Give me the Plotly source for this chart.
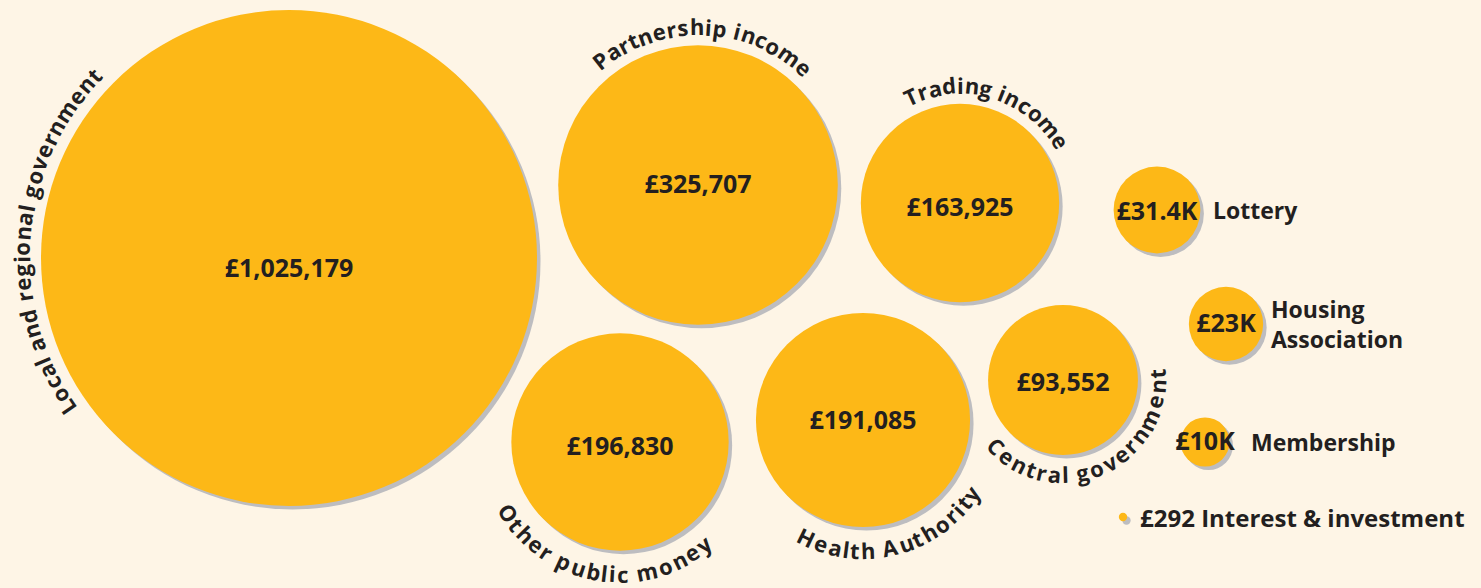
import math

import plotly.graph_objects as go

# --- data -----------------------------------------------------------------
categories = [
    "Local and regional government",
    "Partnership income",
    "Trading income",
    "Other public money",
    "Health Authority",
    "Central government",
    "Lottery",
    "Housing Association",
    "Membership",
    "Interest & investment",
]
values = [1025179, 325707, 163925, 196830, 191085, 93552, 31400, 23000, 10000, 292]

# --- layout (pixel space, x to the right, y downwards) --------------------
centres_x = [289, 698, 960, 620, 863, 1063, 1157, 1226, 1205, 1123]
centres_y = [258, 185, 203, 442, 420, 380, 210, 324, 442, 517]
value_dy = [13, 2, 7, 7, 3, 5, 4, 2, 2, 0]
# label style: arc over the top, arc under the bottom, or plain text at the side
label_style = ["top", "top", "top", "bottom", "bottom", "bottom", "side", "side", "side", "side"]
label_mid_angle = [175.6, 88, 73, 260.3, 284.6, 293.5, None, None, None, None]
label_gap = [20, 19, 19, 23, 23, 19, None, None, None, None]
side_label_x = [None] * 6 + [1211, 1269, 1249, 1138]

BG = "#FEF5E6"
GOLD = "#FDB817"
SHADOW = "#BDBDC0"
INK = "#231F20"
FONT = "Open Sans"
MAX_RADIUS = 248  # px of the biggest bubble

# plotly area sizing: radius = sqrt(value / 2 / sizeref)
sizeref = max(values) / (2 * MAX_RADIUS ** 2)
radii = [math.sqrt(v / 2 / sizeref) for v in values]

# approximate advance widths (em) for Open Sans bold
W = {
    " ": 0.26, "a": 0.60, "b": 0.65, "c": 0.52, "d": 0.65, "e": 0.61, "g": 0.58,
    "h": 0.66, "i": 0.30, "l": 0.30, "m": 0.98, "n": 0.66, "o": 0.64, "p": 0.65,
    "r": 0.45, "s": 0.52, "t": 0.41, "u": 0.66, "v": 0.57, "y": 0.57,
    "A": 0.70, "C": 0.64, "H": 0.78, "L": 0.56, "O": 0.80, "P": 0.64, "T": 0.58,
}


def money(v):
    if v >= 50000:
        return "£{:,}".format(v)
    if v >= 1000:
        k = "{:.1f}".format(v / 1000).rstrip("0").rstrip(".")
        return "£" + k + "K"
    return "£{}".format(v)


def arc_text(text, cx, cy, R, mid_deg, side, size=22, track=1.0):
    widths = [W.get(ch, 0.58) * size for ch in text]
    total = sum(widths) + track * (len(text) - 1)
    out = []
    s = 0.0
    for ch, w in zip(text, widths):
        off = (s + w / 2 - total / 2) / R
        if side == "top":
            th = math.radians(mid_deg) - off
            rot = 90 - math.degrees(th)
        else:
            th = math.radians(mid_deg) + off
            rot = -90 - math.degrees(th)
        rot = (rot + 180) % 360 - 180
        if ch != " ":
            out.append(dict(
                x=cx + R * math.cos(th), y=cy - R * math.sin(th),
                text=ch, textangle=rot, showarrow=False,
                xanchor="center", yanchor="middle",
                font=dict(family=FONT, size=size, color=INK, weight=700),
            ))
        s += w + track
    return out


fig = go.Figure()

# drop shadows
fig.add_trace(go.Scatter(
    x=[x + 3.5 for x in centres_x], y=[y + 3.5 for y in centres_y],
    mode="markers",
    marker=dict(size=values, sizemode="area", sizeref=sizeref, color=SHADOW, line=dict(width=0), opacity=1),
    hoverinfo="skip", showlegend=False,
))
# bubbles
fig.add_trace(go.Scatter(
    x=centres_x, y=centres_y,
    mode="markers",
    marker=dict(size=values, sizemode="area", sizeref=sizeref, color=GOLD, line=dict(width=0), opacity=1),
    customdata=categories,
    hovertemplate="%{customdata}<extra></extra>",
    showlegend=False,
))
# values inside the bubbles
in_idx = [i for i in range(len(values)) if values[i] >= 1000]
fig.add_trace(go.Scatter(
    x=[centres_x[i] for i in in_idx], y=[centres_y[i] + value_dy[i] for i in in_idx],
    mode="text",
    text=[money(values[i]) for i in in_idx],
    textposition="middle center",
    textfont=dict(family=FONT, size=25, color=INK, weight=700),
    hoverinfo="skip", showlegend=False,
))

annotations = []
for i, name in enumerate(categories):
    style = label_style[i]
    if style in ("top", "bottom"):
        annotations += arc_text(name, centres_x[i], centres_y[i], radii[i] + label_gap[i],
                                label_mid_angle[i], style)
    else:
        txt = name.replace("Housing ", "Housing<br>")
        size = 23
        if values[i] < 1000:
            txt = money(values[i]) + " " + txt
            size = 24
        annotations.append(dict(
            x=side_label_x[i], y=centres_y[i], text=txt, showarrow=False,
            xanchor="left", yanchor="middle", align="left",
            font=dict(family=FONT, size=size, color=INK, weight=700),
        ))

fig.update_layout(
    width=1481,
    height=588,
    margin=dict(l=0, r=0, t=0, b=0),
    paper_bgcolor=BG,
    plot_bgcolor=BG,
    xaxis=dict(range=[0, 1481], visible=False, fixedrange=True),
    yaxis=dict(range=[588, 0], visible=False, fixedrange=True),
    annotations=annotations,
)

fig.write_html(
    "out.html",
    config={"displayModeBar": False},
    post_script="document.body.style.margin='0';",
)
